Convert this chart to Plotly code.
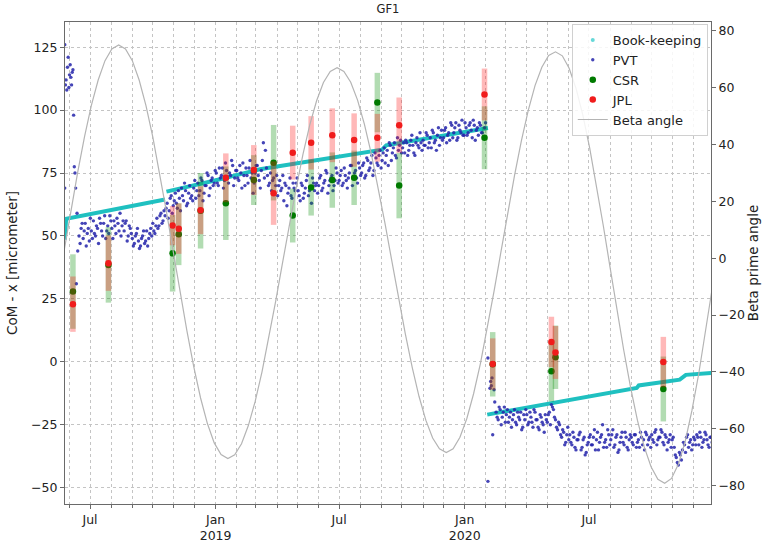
import pandas as pd
import plotly.graph_objects as go

# ---------------- data ----------------
TITLE = "GF1"
TICK_DATES = ["2018-07-01", "2019-01-01", "2019-07-01", "2020-01-01", "2020-07-01"]
TICK_TEXT = ["Jul", "Jan<br>2019", "Jul", "Jan<br>2020", "Jul"]

# Book-keeping (segments separated by None)
BK_DATES = ["2018-05-25", "2018-05-26", "2018-05-27", "2018-10-19", None,
            "2018-10-21", "2018-12-31", "2019-03-07", "2019-06-03", "2019-09-02", "2019-09-08", "2020-02-04", None,
            "2020-02-03", "2020-09-09", "2020-09-12", "2020-11-11", "2020-11-20", "2020-12-27"]
BK_VALUES = [48.5, 52, 56.8, 64.5, None,
             67.6, 72, 76.5, 80.3, 84.3, 86, 92.9, None,
             -21, -10.4, -9.4, -7.1, -5.2, -4.4]

# PVT: two interleaved sample sets, each every 3 days
PVT_STEP_DAYS = 3
PVT_EARLY_DATES = ["2018-05-25", "2018-05-25", "2018-05-26", "2018-05-27", "2018-05-28", "2018-05-29",
                   "2018-05-30", "2018-05-31", "2018-06-01", "2018-06-02", "2018-06-03", "2018-06-04",
                   "2018-06-05", "2018-06-06", "2018-06-07", "2018-06-08", "2018-06-09", "2018-06-10",
                   "2018-06-11", "2018-06-12", "2018-06-13"]
PVT_EARLY_VALUES = [126, 69, 110, 112, 108, 117, 121, 109, 114, 118, 113, 110,
                    115, 116, 98, 77.5, 75, 69, 31, 59, 44]
PVT_B_START = "2018-06-15"
PVT_B_VALUES = [50, 53, 49, 55, 51, 48, 52, 56, 50, 53, 57, 52, 55, 49, 54, 58, 53, 56, 51, 55, 59,
                54, 52, 56, 50, 53, 49, 47, 51, 48, 46, 50, 47, 52, 49, 53, 55, 51, 57, 54, 59, 56]
PVT_B2_START = "2018-06-16 12:00"
PVT_B2_VALUES = [47, 55, 52, 46, 53, 57, 49, 51, 54, 47, 55, 50, 58, 52, 51, 56, 49, 54, 57, 52, 50,
                 56, 55, 48, 54, 51, 46, 50, 53, 45, 49, 52, 48, 46, 51, 50, 52, 54, 53, 58, 55, 60]
PVT_C_START = "2018-10-19"
PVT_C_VALUES = [58, 63, 60, 66, 62,
                67, 61, 65, 69, 64, 68, 63, 70, 66, 69,
                65, 71, 68, 72, 67, 70, 74, 69, 73, 71,
                75, 70, 73, 77, 72, 76, 71, 74, 78, 73,
                76, 72, 75, 79, 70, 74, 77, 73, 67, 75,
                78, 72, 76, 87, 84, 74, 71, 68, 73, 70,
                66, 72, 69, 64, 70, 67, 73, 65, 69, 71,
                68, 64, 70, 67, 72, 66, 69, 73, 68, 71,
                70, 74, 69, 72, 75, 70, 73, 68, 72, 75,
                72, 76, 71, 74, 69, 75, 78, 73, 76, 71, 77,
                75, 79, 74, 80, 77, 82, 76, 81, 78, 84,
                80, 85, 82, 78, 86, 83, 87, 81, 84, 88,
                85, 83, 87, 84, 88, 86, 82, 89, 85, 87,
                88, 86, 90, 87, 85, 91, 88, 90, 86, 92,
                89, 93, 90, 88, 94, 91, 95, 89, 92, 96, 90,
                93, 91, 95, 89, 94, 92, 90, 94, 91, 93]
PVT_C2_START = "2018-10-20 12:00"
PVT_C2_VALUES = [61, 57, 65, 59, 64,
                 63, 68, 60, 66, 71, 62, 67, 65, 64, 72,
                 68, 66, 73, 64, 70, 75, 66, 72, 70, 76,
                 71, 77, 74, 69, 79, 73, 75, 80, 70, 76,
                 73, 78, 69, 74, 77, 71, 80, 75, 71, 78,
                 74, 69, 80, 73, 77, 70, 75, 72, 67, 74,
                 70, 68, 74, 71, 62, 69, 66, 71, 68, 73,
                 66, 71, 65, 69, 74, 68, 63, 71, 70, 67,
                 73, 68, 71, 76, 67, 72, 74, 70, 77, 71,
                 74, 70, 77, 72, 73, 78, 70, 75, 73, 79, 74,
                 78, 73, 81, 76, 79, 74, 83, 79, 82, 77,
                 83, 79, 84, 87, 80, 85, 82, 89, 86, 83,
                 87, 88, 82, 86, 90, 83, 87, 86, 91, 84,
                 86, 91, 85, 89, 92, 87, 84, 93, 89, 88,
                 92, 87, 91, 95, 89, 93, 88, 94, 91, 90, 95,
                 90, 94, 92, 96, 88, 93, 95, 91, 89, 95]
PVT_D_EARLY_DATES = ["2020-02-04", "2020-02-04", "2020-02-07", "2020-02-08", "2020-02-09",
                     "2020-02-10", "2020-02-11", "2020-02-13", "2020-02-14"]
PVT_D_EARLY_VALUES = [1.5, -47.5, -10.5, -7.8, -9.5, -6.4, -29, -11.1, -16]
PVT_D_START = "2020-02-16"
PVT_D_VALUES = [-20, -23, -19, -22, -18,
                -21, -24, -20, -23, -19, -25, -22, -20, -26, -23,
                -21, -24, -22, -26, -20, -23, -27, -22, -25, -21,
                -24, -20, -17, -19, -23, -27, -25, -30, -28, -32, -26,
                -29, -33, -30, -35, -31, -28, -34, -30, -36, -32,
                -29, -33, -27, -31, -35, -30, -25, -32, -34, -29,
                -31, -27, -33, -29, -35, -30, -32, -28, -34, -31,
                -30, -33, -29, -32, -34, -30, -31, -28, -33, -30,
                -29, -32, -27, -31, -30, -28, -33, -30, -32, -29, -31,
                -34, -38, -41, -37, -35, -33, -30, -34, -31, -33,
                -31, -29, -33, -30, -32, -28, -31, -34, -30]
PVT_D2_START = "2020-02-17 12:00"
PVT_D2_VALUES = [-22, -18, -25, -20, -24,
                 -19, -22, -26, -21, -24, -20, -23, -27, -21, -19,
                 -25, -20, -24, -19, -23, -26, -21, -24, -28, -23,
                 -21, -25, -18, -22, -26, -24, -29, -27, -33, -29, -31,
                 -32, -28, -34, -31, -29, -35, -31, -37, -33, -30,
                 -33, -30, -35, -28, -32, -29, -34, -31, -27, -33,
                 -29, -34, -30, -36, -32, -28, -33, -30, -35, -29,
                 -32, -29, -34, -31, -28, -33, -35, -29, -31, -34,
                 -31, -28, -33, -30, -27, -32, -29, -35, -31, -34, -30,
                 -37, -40, -36, -39, -32, -36, -29, -32, -35, -30,
                 -33, -30, -28, -34, -31, -29, -33, -30, -32]

# CSR / JPL solutions with uncertainties
SOL_DATES = ["2018-06-06", "2018-07-28", "2018-10-30", "2018-11-08", "2018-12-10", "2019-01-16",
             "2019-02-26", "2019-03-27", "2019-04-24", "2019-05-21", "2019-06-21", "2019-07-23",
             "2019-08-26", "2019-09-27", "2020-01-30", "2020-02-11", "2020-05-07", "2020-05-13",
             "2020-10-18"]
CSR_VALUES = [27.9, 38.5, 43.1, 50.7, 60, 63, 72.2, 79.1, 58.1, 69.2, 72.2, 73.1,
              103, 70, 89, -1, -3.8, 1.8, -10.8]
CSR_ERR = [14.8, 15, 15.2, 12.3, 15, 14.6, 9.9, 15, 10.7, 11.1, 11, 10.8,
           11.8, 13, 12.5, 12.8, 12, 12.6, 12.9]
JPL_VALUES = [22.9, 39.2, 54.1, 52.9, 60.2, 73.1, 76.2, 67, 83.1, 87, 90, 88.1,
              89, 94, 106.2, -0.9, 7.9, 3.7, -0.1]
JPL_ERR = [11, 11, 7.8, 10, 9.5, 9.7, 9.9, 12.6, 10.7, 10.6, 10.7, 10.6,
           9.5, 11, 10.3, 10.2, 10, 10.5, 10]

# Beta prime angle (right axis)
BETA_DATES = ["2018-05-24", "2018-06-03", "2018-06-13", "2018-06-23", "2018-07-03", "2018-07-13",
              "2018-07-23", "2018-08-02", "2018-08-12",
              "2018-08-22", "2018-09-01", "2018-09-11", "2018-09-21", "2018-10-01", "2018-10-11",
              "2018-10-21", "2018-10-31", "2018-11-10", "2018-11-20", "2018-11-30", "2018-12-10",
              "2018-12-20", "2018-12-30", "2019-01-09", "2019-01-19",
              "2019-01-29", "2019-02-08", "2019-02-18", "2019-02-28", "2019-03-10", "2019-03-20",
              "2019-03-30", "2019-04-09", "2019-04-19", "2019-04-29", "2019-05-09", "2019-05-19",
              "2019-05-29", "2019-06-08", "2019-06-18", "2019-06-28",
              "2019-07-08", "2019-07-18", "2019-07-28", "2019-08-07", "2019-08-17", "2019-08-27",
              "2019-09-06", "2019-09-16", "2019-09-26", "2019-10-06", "2019-10-16", "2019-10-26",
              "2019-11-05", "2019-11-15", "2019-11-25", "2019-12-05",
              "2019-12-15", "2019-12-25", "2020-01-04", "2020-01-14", "2020-01-24", "2020-02-03",
              "2020-02-13", "2020-02-23", "2020-03-04", "2020-03-14", "2020-03-24", "2020-04-03",
              "2020-04-13", "2020-04-23", "2020-05-03", "2020-05-13",
              "2020-05-23", "2020-06-02", "2020-06-12", "2020-06-22", "2020-07-02", "2020-07-12",
              "2020-07-22", "2020-08-01", "2020-08-11", "2020-08-21", "2020-08-31", "2020-09-10",
              "2020-09-20", "2020-09-30", "2020-10-10", "2020-10-20",
              "2020-10-30", "2020-11-09", "2020-11-19", "2020-11-29", "2020-12-09", "2020-12-19",
              "2020-12-29"]
BETA_VALUES = [2.5, 16.6, 30.3, 42.8, 53.8, 62.7, 69.5, 73.6, 75,
               73.6, 69.5, 62.7, 53.7, 42.7, 30.1, 16.4, 2.25, -11.9, -25.6, -38.2, -49.2,
               -58.2, -65, -69.1, -70.5,
               -69.2, -65.3, -58.9, -50.4, -40, -28.1, -15.2, -1.75, 11.7, 24.6, 36.5, 46.9,
               55.4, 61.8, 65.7, 67,
               65.7, 61.9, 55.6, 47.2, 36.9, 25.2, 12.5, -0.7, -13.9, -26.6, -38.3, -48.6,
               -57, -63.3, -67.1, -68.4,
               -67.1, -63, -56.5, -47.7, -37.1, -24.9, -11.6, 2.1, 15.8, 29.1, 41.3, 51.9,
               60.7, 67.2, 71.3, 72.6,
               71.2, 66.8, 59.8, 50.4, 38.9, 25.8, 11.5, -3.3, -18.1, -32.4, -45.5, -57,
               -66.4, -73.4, -77.8, -79.2,
               -77.5, -72.5, -64.5, -53.5, -40.5, -25.5, -10]

# ---------------- build ----------------
def regular(start, values):
    return list(pd.date_range(start, periods=len(values), freq=f"{PVT_STEP_DAYS}D"))

pvt_x = (list(pd.to_datetime(PVT_EARLY_DATES))
         + regular(PVT_B_START, PVT_B_VALUES) + regular(PVT_B2_START, PVT_B2_VALUES)
         + regular(PVT_C_START, PVT_C_VALUES) + regular(PVT_C2_START, PVT_C2_VALUES)
         + list(pd.to_datetime(PVT_D_EARLY_DATES))
         + regular(PVT_D_START, PVT_D_VALUES) + regular(PVT_D2_START, PVT_D2_VALUES))
pvt_y = (PVT_EARLY_VALUES + PVT_B_VALUES + PVT_B2_VALUES + PVT_C_VALUES + PVT_C2_VALUES
         + PVT_D_EARLY_VALUES + PVT_D_VALUES + PVT_D2_VALUES)

FONT = "DejaVu Sans"
CYAN = "#1fc0c0"
GRID = "#c4c4c4"
AX = "#6a6a6a"

fig = go.Figure()

fig.add_trace(go.Scatter(x=BK_DATES, y=BK_VALUES, mode="lines", connectgaps=False,
                         line=dict(color=CYAN, width=4), showlegend=False, hoverinfo="skip"))
fig.add_trace(go.Scatter(x=[None], y=[None], mode="markers", name="Book-keeping",
                         marker=dict(color="#66d8d8", size=4), legendrank=1))
fig.add_trace(go.Scatter(x=pvt_x, y=pvt_y, mode="markers", name="PVT",
                         marker=dict(color="rgba(35,35,170,0.85)", size=3.4), legendrank=2))
fig.add_trace(go.Scatter(x=SOL_DATES, y=CSR_VALUES, mode="markers", name="CSR",
                         marker=dict(color="#007a00", size=6.5),
                         error_y=dict(type="data", array=CSR_ERR, visible=True, thickness=5.5,
                                      width=0, color="rgba(0,140,0,0.3)"), legendrank=3))
fig.add_trace(go.Scatter(x=SOL_DATES, y=JPL_VALUES, mode="markers", name="JPL",
                         marker=dict(color="#f01c1c", size=6.5),
                         error_y=dict(type="data", array=JPL_ERR, visible=True, thickness=5.5,
                                      width=0, color="rgba(255,20,20,0.3)"), legendrank=4))
fig.add_trace(go.Scatter(x=BETA_DATES, y=BETA_VALUES, mode="lines", name="Beta angle", yaxis="y2",
                         line=dict(color="#b4b4b4", width=1.2), legendrank=5))

fig.update_layout(
    width=763, height=545,
    margin=dict(l=65, r=52, t=22, b=41, autoexpand=False),
    paper_bgcolor="white", plot_bgcolor="white",
    font=dict(family=FONT, size=13, color="#222"),
    title=dict(text=TITLE, x=0.5, xref="paper", y=1 - 9 / 545, yref="container",
               yanchor="middle", font=dict(size=11.5, color="#222")),
    showlegend=True,
    legend=dict(x=0.995, y=0.996, xanchor="right", yanchor="top",
                bgcolor="rgba(255,255,255,0.85)", bordercolor="#d0d0d0", borderwidth=1,
                font=dict(size=13, color="#222"), tracegroupgap=0, itemwidth=30),
    xaxis=dict(
        type="date", range=["2018-05-25 09:00", "2020-12-26 20:00"], automargin=False,
        tickmode="array", tickvals=TICK_DATES, ticktext=TICK_TEXT,
        ticks="outside", ticklen=4, tickcolor=AX,
        showgrid=True, gridcolor=GRID, griddash="dot", gridwidth=1,
        showline=True, linecolor=AX, linewidth=1.2, mirror=True,
        zeroline=False, tickfont=dict(size=12.5),
        minor=dict(tickmode="linear", tick0="2018-01-01", dtick="M1", ticks="outside",
                   ticklen=2.5, tickcolor=AX, showgrid=True, gridcolor=GRID, griddash="dot",
                   gridwidth=1),
    ),
    yaxis=dict(
        range=[-56.5, 135.0], tickmode="linear", tick0=0, dtick=25, automargin=False,
        ticks="outside", ticklen=4, tickcolor=AX,
        showgrid=True, gridcolor=GRID, griddash="dot", gridwidth=1,
        showline=True, linecolor=AX, linewidth=1.2, mirror=True, zeroline=False,
        title=dict(text="CoM - x [micrometer]", font=dict(size=13.5), standoff=10),
        tickfont=dict(size=12.5),
    ),
    yaxis2=dict(
        overlaying="y", side="right", range=[-86.5, 83.1], tickmode="linear", tick0=0, dtick=20,
        automargin=False,
        ticks="outside", ticklen=4, tickcolor=AX, showgrid=False, zeroline=False,
        showline=True, linecolor=AX, linewidth=1.2,
        title=dict(text="Beta prime angle", font=dict(size=13.5), standoff=4),
        tickfont=dict(size=12.5),
    ),
)

fig.write_html("out.html", config={"displayModeBar": False},
               post_script="document.body.style.margin='0px';document.body.style.overflow='hidden';")
